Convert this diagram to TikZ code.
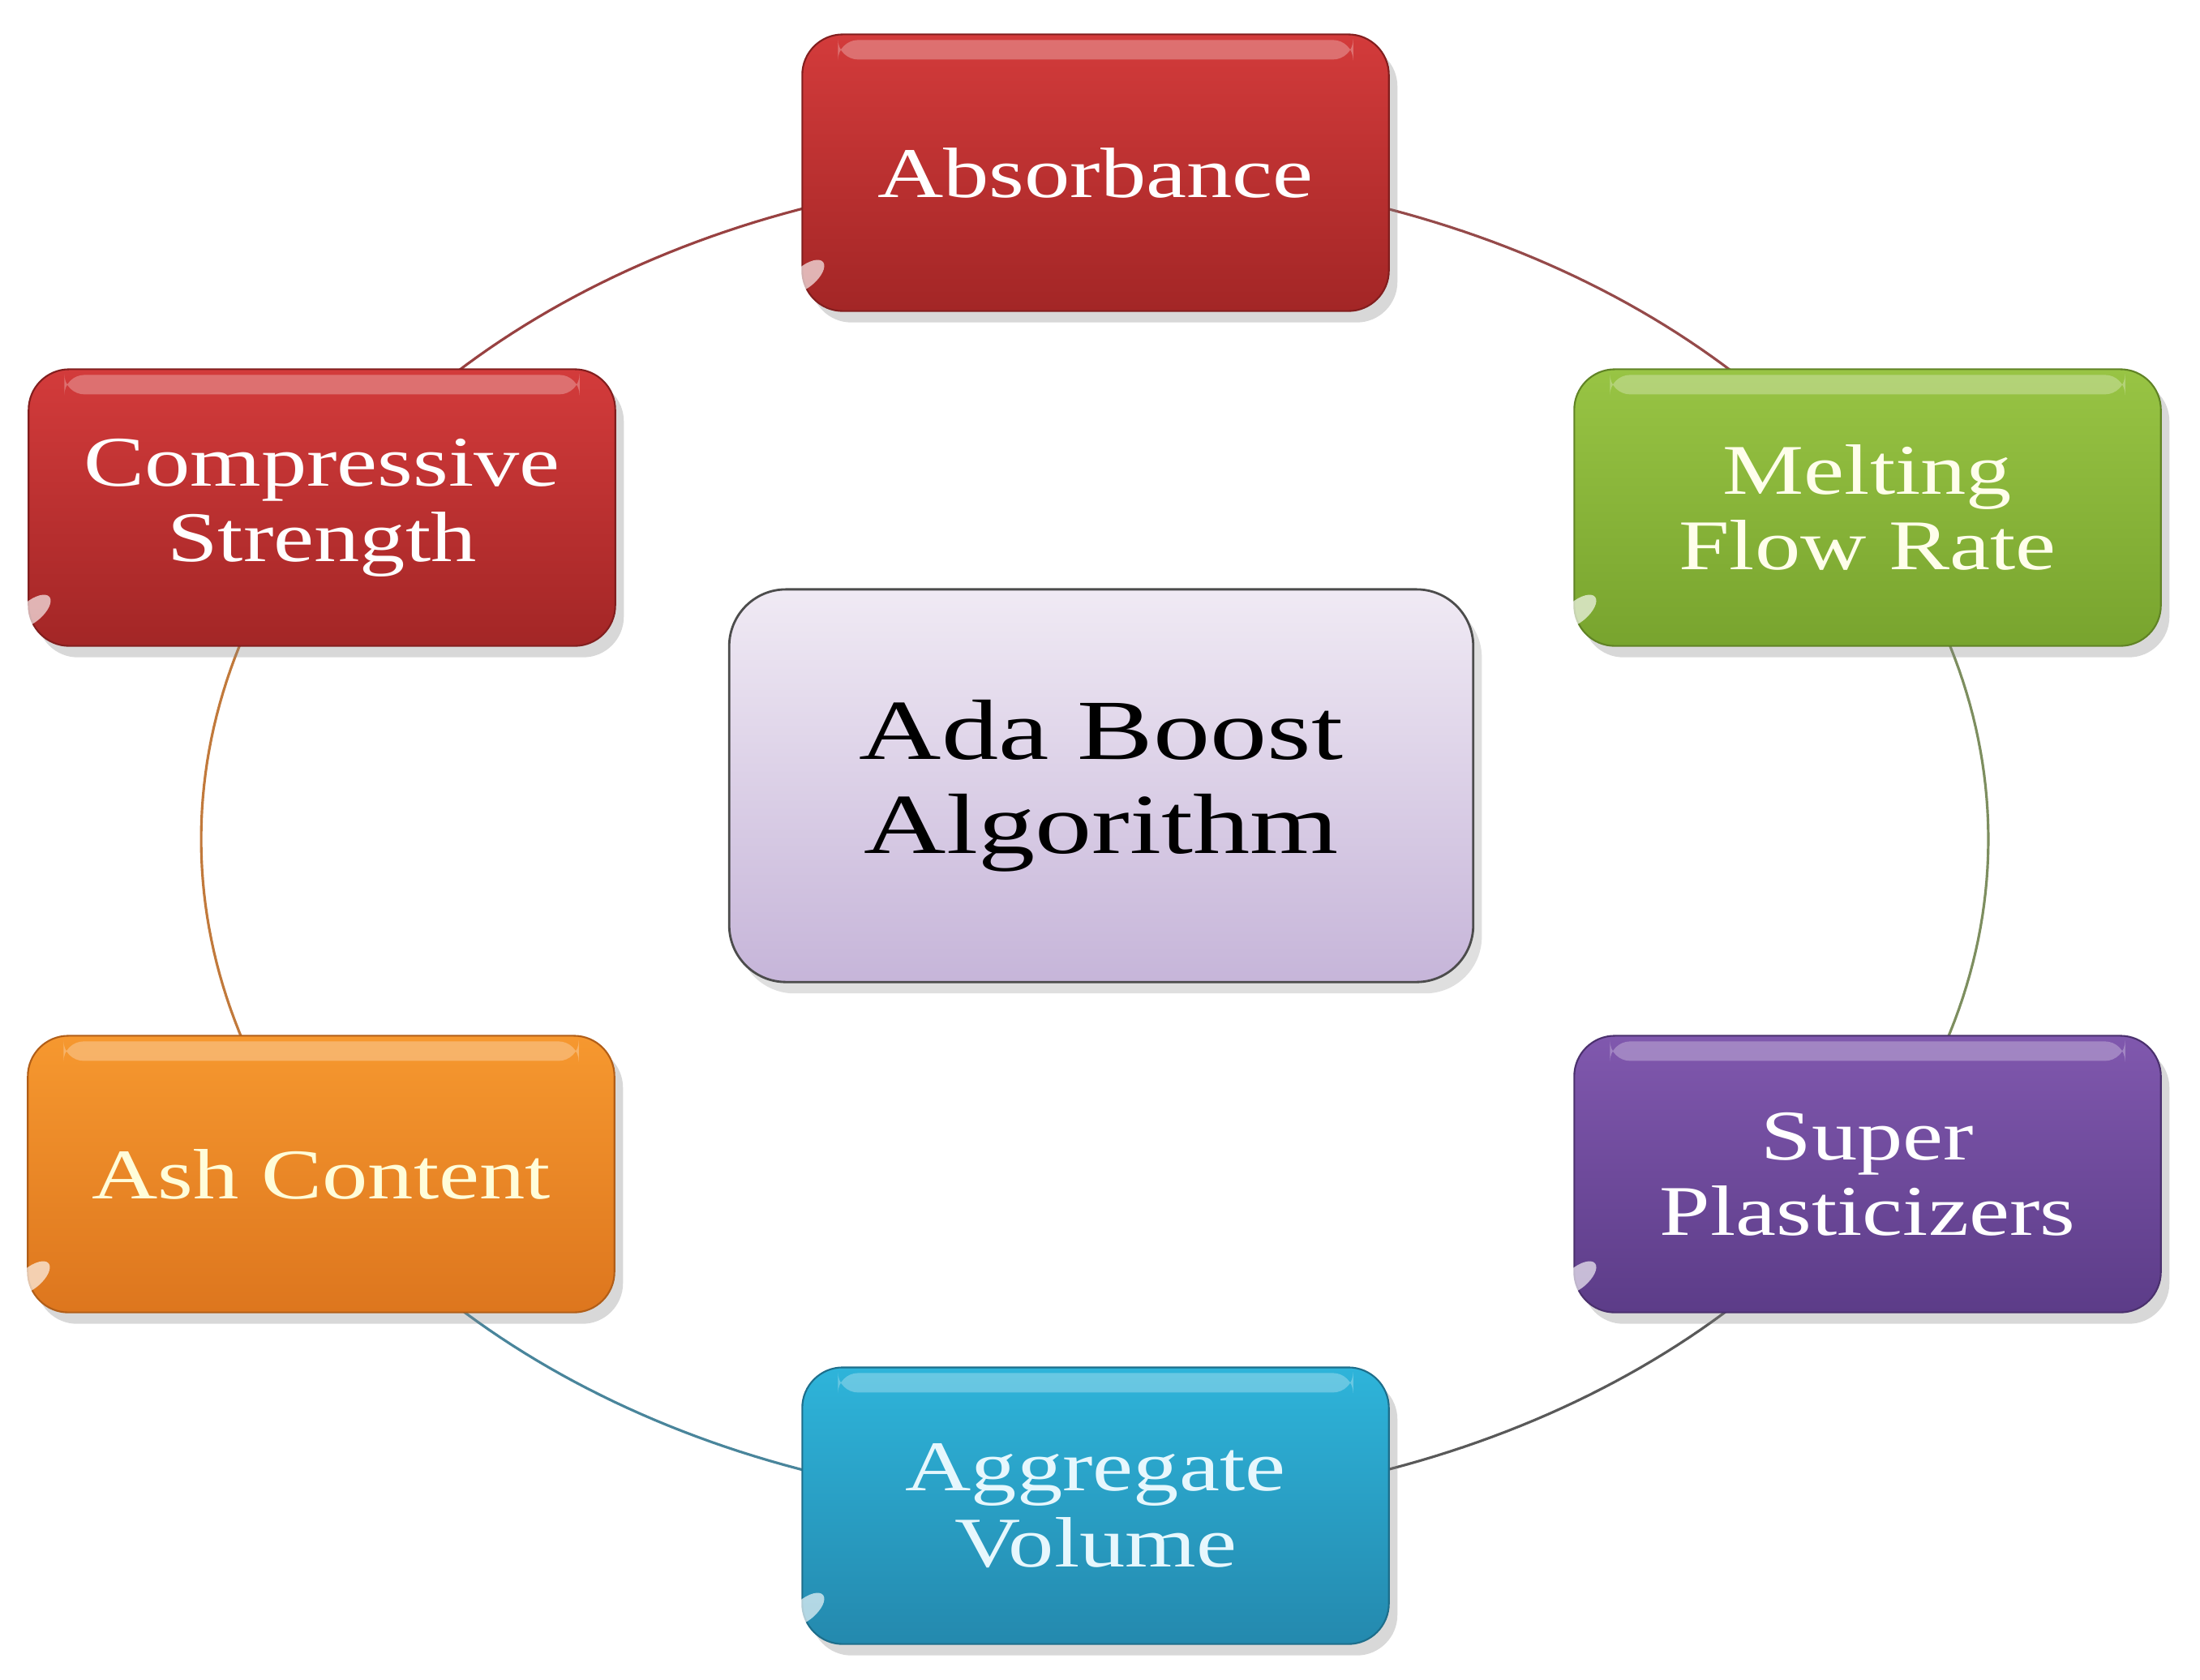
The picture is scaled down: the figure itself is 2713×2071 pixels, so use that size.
\documentclass[tikz,border=0pt]{standalone}
\usepackage{fontspec}
\setmainfont{Liberation Serif}
\newfontfamily\widerm[FakeStretch=1.28]{Liberation Serif}
\newfontfamily\widecenter[FakeStretch=1.33]{Liberation Serif}
\usetikzlibrary{shadows}
\definecolor{redT}{HTML}{D33B3B}
\definecolor{redB}{HTML}{A32626}
\definecolor{grnT}{HTML}{98C444}
\definecolor{grnB}{HTML}{78A42E}
\definecolor{purT}{HTML}{8058AE}
\definecolor{purB}{HTML}{5C3C88}
\definecolor{orgT}{HTML}{F6982F}
\definecolor{orgB}{HTML}{DD761E}
\definecolor{bluT}{HTML}{2EB4DA}
\definecolor{bluB}{HTML}{2489AE}
\definecolor{lavT}{HTML}{F0EAF4}
\definecolor{lavB}{HTML}{C6B5D9}
\tikzset{
  outerbox/.style n args={3}{rounded corners=0.5cm, minimum width=7.23cm, minimum height=3.41cm,
    align=center, inner sep=0pt, font=\widerm\fontsize{25}{26.5}\selectfont, text=#3,
    top color=#1, bottom color=#2, draw=#2!80!black, line width=0.6pt,
    drop shadow={opacity=0.3, shadow xshift=3pt, shadow yshift=-4pt}},
  centerbox/.style={rounded corners=0.7cm, minimum width=9.17cm, minimum height=4.84cm,
    align=center, inner sep=0pt, font=\widecenter\fontsize{30}{33}\selectfont, text=black,
    top color=lavT, bottom color=lavB, draw=black!70, line width=0.8pt,
    drop shadow={opacity=0.25, shadow xshift=3pt, shadow yshift=-4pt}},
  ring/.style={line width=0.9pt},
  gloss/.style={white, opacity=0.28, rounded corners=0.25cm},
  glint/.style={white, opacity=0.65}
}
\begin{document}
\begin{tikzpicture}[x=0.01cm, y=-0.01cm]
\useasboundingbox[fill=white] (0,0) rectangle (2713,2071);
% ellipse connectors (drawn behind the boxes)
\draw[ring, color=redB!70!gray] plot[domain=90:150, samples=60] ({1350+1102*cos(\x)},{1035-823*sin(\x)});
\draw[ring, color=redB!60!gray] plot[domain=30:90, samples=60] ({1350+1102*cos(\x)},{1035-823*sin(\x)});
\draw[ring, color=orgB!70!gray] plot[domain=150:210, samples=60] ({1350+1102*cos(\x)},{1035-823*sin(\x)});
\draw[ring, color=bluB!60!gray] plot[domain=210:270, samples=60] ({1350+1102*cos(\x)},{1035-823*sin(\x)});
\draw[ring, color=black!65] plot[domain=270:330, samples=60] ({1350+1102*cos(\x)},{1035-823*sin(\x)});
\draw[ring, color=grnB!40!gray] plot[domain=-30:30, samples=60] ({1350+1102*cos(\x)},{1035-823*sin(\x)});

\node[outerbox={redT}{redB}{white}] (abs) at (1351,213) {Absorbance};
\node[outerbox={redT}{redB}{white}] (comp) at (397,626) {Compressive\\Strength};
\node[outerbox={grnT}{grnB}{white!92!yellow}] (melt) at (2303,626) {Melting\\Flow Rate};
\node[outerbox={orgT}{orgB}{white!85!yellow}] (ash) at (396,1448) {Ash Content};
\node[outerbox={purT}{purB}{white}] (sup) at (2303,1448) {Super\\Plasticizers};
\node[outerbox={bluT}{bluB}{white!90!cyan}] (agg) at (1351,1857) {Aggregate\\Volume};
\node[centerbox] (ada) at (1358,969) {Ada Boost\\Algorithm};

\foreach \n in {abs,comp,melt,ash,sup,agg}{
  \fill[gloss] ([xshift=0.45cm,yshift=-0.08cm]\n.north west) rectangle ([xshift=-0.45cm,yshift=-0.32cm]\n.north east);
  \fill[glint, rotate around={40:([xshift=0.32cm,yshift=0.3cm]\n.south west)}] ([xshift=0.32cm,yshift=0.3cm]\n.south west) ellipse [x radius=0.28cm, y radius=0.13cm];
}
\end{tikzpicture}
\end{document}
